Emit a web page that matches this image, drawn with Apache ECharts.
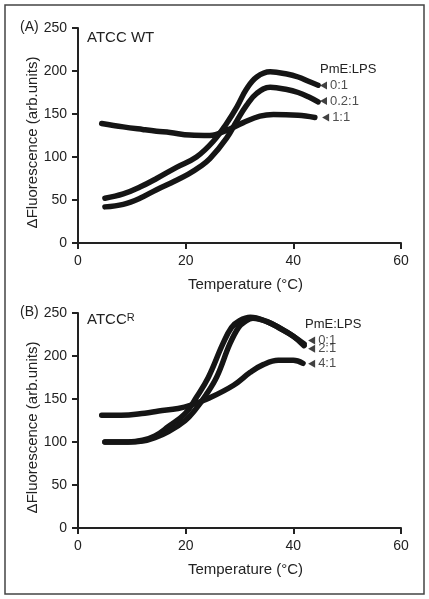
<!DOCTYPE html>
<html>
<head>
<meta charset="utf-8">
<script src="https://cdn.jsdelivr.net/npm/echarts@6/dist/echarts.min.js"></script>
<style>html,body{margin:0;padding:0;background:#fff}#c{width:429px;height:599px}</style>
</head>
<body>
<div id="c"></div>
<script>
// Panel A (ATCC WT)
const tA01 = [5, 8.4, 11.5, 14.6, 18.3, 22, 25.1, 27.6, 29.5, 31.3, 33.2, 35.7, 38.8, 40.9, 42.8, 44.6];
const a_0_1 = [52, 57, 65, 75, 88, 100, 118, 139, 158, 179, 193, 199, 196.5, 193, 188, 183.5];
const tA021 = [5, 8.4, 11.5, 14.6, 18, 20.5, 22.5, 24.5, 27.6, 29.5, 31.3, 33.2, 35.7, 38.8, 40.9, 42.8, 44.6];
const a_02_1 = [42, 45, 52, 62, 72, 80, 88, 98, 122, 142, 160, 174, 181, 178.5, 175, 170, 164];
const tA11 = [4.4, 8.4, 12, 14.6, 17.1, 20.8, 24.5, 27.6, 30.7, 33.8, 36.3, 40.9, 44];
const a_1_1 = [139, 135, 132, 130, 128.5, 125.5, 125, 131, 140, 147.5, 149.5, 148.5, 146];
// Panel B (ATCC^R)
const tB01 = [5, 7, 9.3, 12, 14.3, 16.8, 19.9, 22, 24.2, 26.9, 28.5, 30, 32, 35.1, 37.6, 40, 42];
const b_0_1 = [100, 100, 100, 102, 107, 118, 133, 152, 175, 214, 233, 241, 245, 240, 232, 223, 214];
const tB21 = [5, 7, 9.3, 12, 14.3, 16.8, 19.9, 21.7, 23.8, 25.8, 28.2, 29.8, 31, 32.5, 35.1, 37.6, 40, 42];
const b_2_1 = [100, 100, 100, 101, 105, 112, 125, 137, 155, 176, 214, 233, 240, 244, 240, 232, 223, 212];
const tB41 = [4.4, 8, 12.4, 15, 18.6, 21, 24.5, 28.9, 32, 34.4, 37.2, 40, 41.8];
const b_4_1 = [131, 131, 133.5, 136, 139, 143, 151.5, 166, 181, 190, 195, 195, 191.5];
// annotation labels
const labelsA = ['0:1', '0.2:1', '1:1'];
const labelPosA = [[45.6, 183], [45.6, 165], [46, 146]];
const labelsB = ['0:1', '2:1', '4:1'];
const labelPosB = [[43.4, 218], [43.4, 208.5], [43.4, 191]];
const xTicks = {min: 0, max: 60, interval: 20};
const yTicks = {min: 0, max: 250, interval: 50};

const FONT = 'Liberation Sans, Arial, sans-serif';
const zip = (xs, ys) => xs.map((x, i) => [x, ys[i]]);
const lineColor = '#151515';

function axisX(gi) {
  return {
    type: 'value', gridIndex: gi, min: xTicks.min, max: xTicks.max, interval: xTicks.interval,
    name: 'Temperature (°C)', nameLocation: 'middle', nameGap: 34, nameMoveOverlap: false,
    nameTextStyle: {fontFamily: FONT, fontSize: 15, color: '#222', padding: [0, 0, 0, 12]},
    axisLine: {onZero: false, lineStyle: {color: '#222', width: 2}},
    axisTick: {show: true, length: 6, lineStyle: {color: '#222', width: 2}},
    axisLabel: {fontFamily: FONT, fontSize: 14, color: '#222', margin: 11},
    splitLine: {show: false}
  };
}
function axisY(gi) {
  return {
    type: 'value', gridIndex: gi, min: yTicks.min, max: yTicks.max, interval: yTicks.interval,
    name: 'ΔFluorescence (arb.units)', nameLocation: 'middle', nameGap: 38, nameMoveOverlap: false,
    nameTextStyle: {fontFamily: FONT, fontSize: 15, color: '#222', padding: [0, 14, 0, 0]},
    axisLine: {onZero: false, lineStyle: {color: '#222', width: 2}},
    axisTick: {show: true, length: 6, lineStyle: {color: '#222', width: 2}},
    axisLabel: {fontFamily: FONT, fontSize: 14, color: '#222', margin: 11},
    splitLine: {show: false}
  };
}
function curve(gi, xs, ys) {
  return {
    type: 'line', xAxisIndex: gi, yAxisIndex: gi, data: zip(xs, ys), smooth: 0.4,
    showSymbol: false, symbol: 'none', silent: true,
    lineStyle: {color: lineColor, width: 5.5, cap: 'round', join: 'round'}
  };
}
function tags(gi, pos, labs) {
  return {
    type: 'scatter', xAxisIndex: gi, yAxisIndex: gi, symbol: 'triangle', symbolSize: [8, 7],
    symbolRotate: 90, silent: true,
    itemStyle: {color: '#111'},
    data: pos.map((p, i) => ({value: p, label: {formatter: labs[i]}})),
    label: {show: true, position: 'right', distance: 3, fontFamily: FONT, fontSize: 13, color: '#222'}
  };
}

const chart = echarts.init(document.getElementById('c'), null, {renderer: 'canvas'});
chart.setOption({
  animation: false,
  backgroundColor: '#fff',
  grid: [
    {left: 78, top: 28, width: 323, height: 215},
    {left: 78, top: 313, width: 323, height: 215}
  ],
  xAxis: [axisX(0), axisX(1)],
  yAxis: [axisY(0), axisY(1)],
  series: [
    curve(0, tA01, a_0_1),
    curve(0, tA021, a_02_1),
    curve(0, tA11, a_1_1),
    curve(1, tB01, b_0_1),
    curve(1, tB21, b_2_1),
    curve(1, tB41, b_4_1),
    tags(0, labelPosA, labelsA),
    tags(1, labelPosB, labelsB)
  ],
  graphic: [
    {type: 'rect', shape: {x: 5, y: 5, width: 419, height: 589}, style: {fill: 'none', stroke: '#444', lineWidth: 1.5}},
    {type: 'text', left: 20, top: 20, style: {text: '(A)', font: '14px ' + FONT, fill: '#222'}},
    {type: 'text', left: 87, top: 30, style: {text: 'ATCC WT', font: '15px ' + FONT, fill: '#222'}},
    {type: 'text', left: 320, top: 63, style: {text: 'PmE:LPS', font: '13px ' + FONT, fill: '#222'}},
    {type: 'text', left: 20, top: 305, style: {text: '(B)', font: '14px ' + FONT, fill: '#222'}},
    {type: 'text', left: 87, top: 312, style: {rich: {a: {font: '15px ' + FONT, fill: '#222'}, s: {font: '11px ' + FONT, fill: '#222', verticalAlign: 'top', padding: [0, 0, 5, 0]}}, text: '{a|ATCC}{s|R}'}},
    {type: 'text', left: 305, top: 318, style: {text: 'PmE:LPS', font: '13px ' + FONT, fill: '#222'}}
  ]
});
</script>
</body>
</html>
